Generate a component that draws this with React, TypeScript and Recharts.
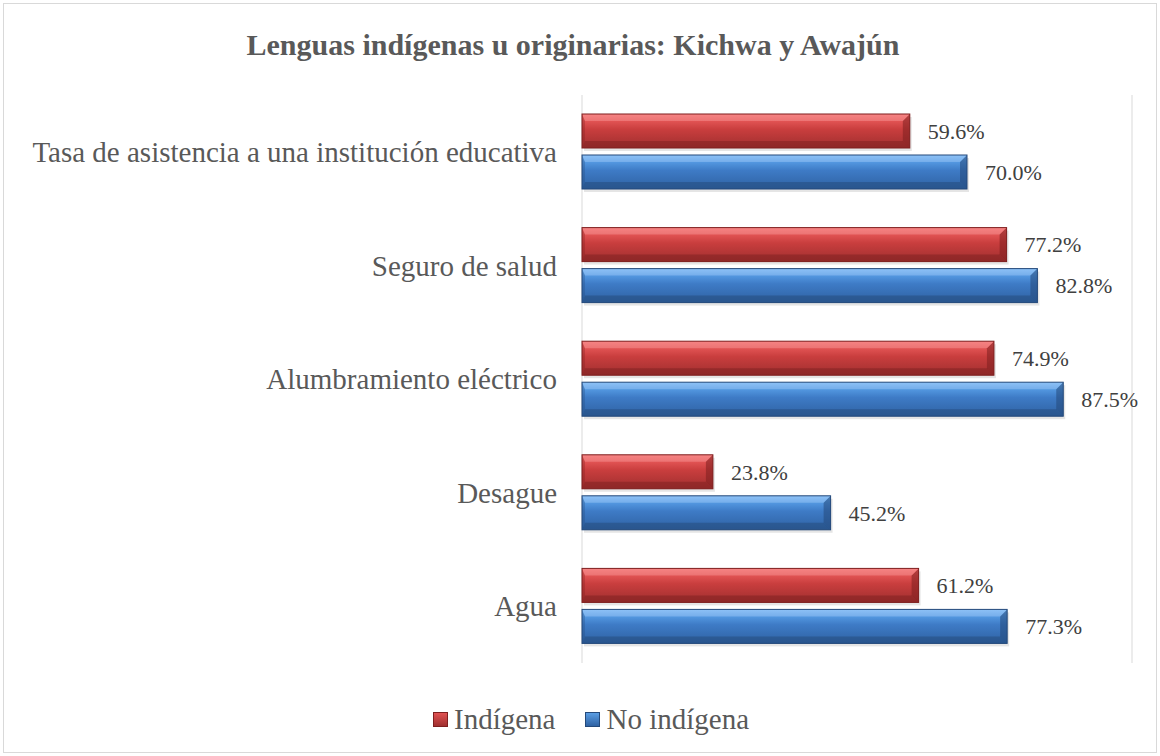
import { BarChart, Bar, XAxis, YAxis, CartesianGrid, LabelList } from 'recharts';

const categories = [
  'Tasa de asistencia a una institución educativa',
  'Seguro de salud',
  'Alumbramiento eléctrico',
  'Desague',
  'Agua',
];
const indigena = [59.6, 77.2, 74.9, 23.8, 61.2];
const noIndigena = [70.0, 82.8, 87.5, 45.2, 77.3];
const xTicks = [0, 20, 40, 60, 80, 100];

const data = categories.map((name, i) => ({ name, indigena: indigena[i], noIndigena: noIndigena[i] }));

const FONT = "'Liberation Serif', 'DejaVu Serif', serif";

// bar with a bevelled look like the old office charts
function BevelBar(props: any) {
  const { x, y, width, height, gid, dark, light } = props;
  if (!width || width <= 0) return null;
  const b = Math.min(7, width / 2);
  const r = x + width;
  const bt = y + height;
  return (
    <g>
      <rect x={x + 2} y={y + 3} width={width} height={height} fill="#000" opacity={0.1} />
      <rect x={x} y={y} width={width} height={height} fill={`url(#${gid})`} />
      {/* bevel facets */}
      <polygon points={`${r - b},${y + b} ${r},${y} ${r},${bt} ${r - b},${bt - b}`} fill={dark} opacity={0.55} />
      <polygon points={`${x + 3},${y + b} ${x},${y} ${x},${bt} ${x + 3},${bt - b}`} fill={dark} opacity={0.3} />
      <polygon points={`${r - b},${y + b} ${r},${y} ${x},${y} ${x + 3},${y + b}`} fill={light} opacity={0.35} />
      <polygon points={`${r - b},${bt - b} ${r},${bt} ${x},${bt} ${x + 3},${bt - b}`} fill={dark} opacity={0.5} />
      <rect x={x} y={y} width={width} height={height} fill="none" stroke={dark} strokeWidth={1} />
    </g>
  );
}

const legendItems = [
  { label: 'Indígena', gid: 'legRed', dark: '#7E1F1F' },
  { label: 'No indígena', gid: 'legBlue', dark: '#24497A' },
];

export default function App() {
  const fmt = (v: any) => `${Number(v).toFixed(1)}%`;
  return (
    <div style={{ position: 'absolute', left: 0, top: 0, width: 1160, height: 756, background: '#fff', fontFamily: FONT }}>
      <div style={{ position: 'absolute', left: 3, top: 3, width: 1152, height: 748, border: '1px solid #d9d9d9' }} />
      <div style={{ position: 'absolute', left: 0, top: 29, width: 1146, textAlign: 'center', fontSize: 30, lineHeight: '32px', fontWeight: 'bold', color: '#595959' }}>
        Lenguas indígenas u originarias: Kichwa y Awajún
      </div>
      <BarChart
        width={1160}
        height={756}
        data={data}
        layout="vertical"
        margin={{ top: 95, right: 28, bottom: 93, left: 0 }}
        barSize={34}
        barGap={7}
        style={{ position: 'absolute', left: 0, top: 0, fontFamily: FONT }}
      >
        <defs>
          <linearGradient id="gRed" x1="0" y1="0" x2="0" y2="1">
            <stop offset="0" stopColor="#F26D6D" />
            <stop offset="0.22" stopColor="#E05252" />
            <stop offset="0.45" stopColor="#C93E3E" />
            <stop offset="1" stopColor="#A02F2F" />
          </linearGradient>
          <linearGradient id="gBlue" x1="0" y1="0" x2="0" y2="1">
            <stop offset="0" stopColor="#78B6F2" />
            <stop offset="0.22" stopColor="#5296DF" />
            <stop offset="0.45" stopColor="#3E7BC6" />
            <stop offset="1" stopColor="#2F62A3" />
          </linearGradient>
        </defs>
        <CartesianGrid horizontal={false} stroke="#d9d9d9" />
        <XAxis type="number" domain={[0, 100]} ticks={xTicks} tick={false} axisLine={false} tickLine={false} height={0} />
        <YAxis
          type="category"
          dataKey="name"
          width={582}
          axisLine={false}
          tickLine={false}
          tickSize={0}
          tickMargin={25}
          tick={{ fontSize: 29, fill: '#595959', fontFamily: FONT }}
        />
        <Bar dataKey="indigena" isAnimationActive={false} shape={(p: any) => <BevelBar {...p} gid="gRed" dark="#7E1F1F" light="#FFB0B0" />}>
          <LabelList dataKey="indigena" position="right" offset={18} formatter={fmt} fontSize={22} fill="#404040" fontFamily={FONT} />
        </Bar>
        <Bar dataKey="noIndigena" isAnimationActive={false} shape={(p: any) => <BevelBar {...p} gid="gBlue" dark="#24497A" light="#B5D8FF" />}>
          <LabelList dataKey="noIndigena" position="right" offset={18} formatter={fmt} fontSize={22} fill="#404040" fontFamily={FONT} />
        </Bar>
      </BarChart>
      <div style={{ position: 'absolute', left: 433, top: 703, display: 'flex', alignItems: 'center', fontSize: 29, color: '#595959' }}>
        {legendItems.map((it, i) => (
          <div key={it.label} style={{ display: 'flex', alignItems: 'center', marginRight: i === 0 ? 30 : 0 }}>
            <div
              style={{
                width: 15,
                height: 15,
                marginRight: 6,
                border: `1px solid ${it.dark}`,
                boxSizing: 'border-box',
                background: it.gid === 'legRed' ? 'linear-gradient(#E05252, #A02F2F)' : 'linear-gradient(#5A9DE3, #2F62A3)',
              }}
            />
            <span>{it.label}</span>
          </div>
        ))}
      </div>
    </div>
  );
}
